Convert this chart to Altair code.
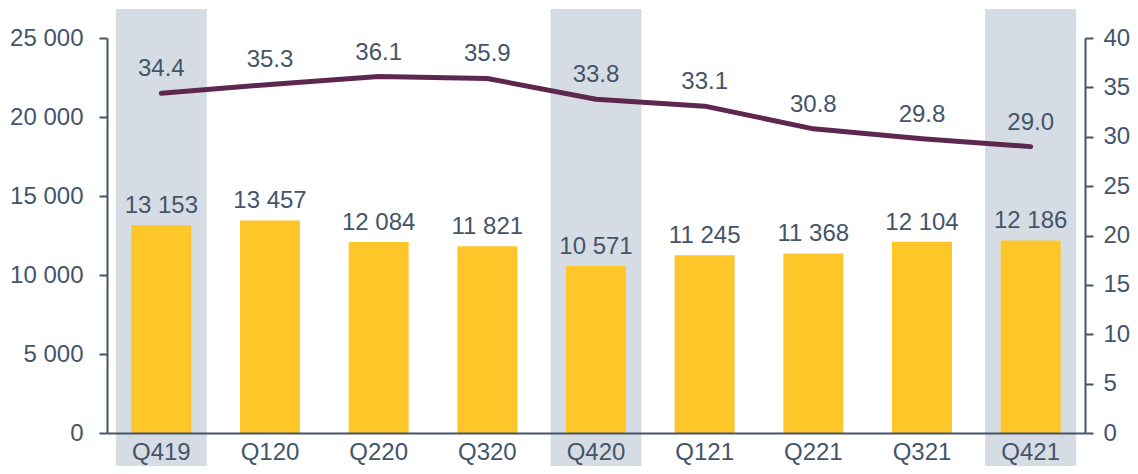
import altair as alt
import pandas as pd

quarters = ["Q419", "Q120", "Q220", "Q320", "Q420", "Q121", "Q221", "Q321", "Q421"]
bar_values = [13153, 13457, 12084, 11821, 10571, 11245, 11368, 12104, 12186]
line_values = [34.4, 35.3, 36.1, 35.9, 33.8, 33.1, 30.8, 29.8, 29.0]
highlight = [True, False, False, False, True, False, False, False, True]

df = pd.DataFrame({
    "q": quarters,
    "bar": bar_values,
    "line": line_values,
    "hl": highlight,
})
df["bar_label"] = [f"{v:,}".replace(",", " ") for v in bar_values]
df["line_label"] = [f"{v:.1f}" for v in line_values]

W, H = 978, 395
TXT = "#44546A"
FONT = "Liberation Sans"
FS = 24

x = alt.X("q:N", sort=quarters, title=None,
          scale=alt.Scale(paddingInner=0, paddingOuter=0),
          axis=alt.Axis(labelAngle=0, ticks=False, labelPadding=7, zindex=1,
                        domainColor=TXT, domainWidth=2,
                        labelColor=TXT, labelFont=FONT, labelFontSize=FS))

base = alt.Chart(df)

bands = base.transform_filter("datum.hl").mark_bar(
    size=91, color="#D6DCE4"
).encode(x=x, y=alt.value(-29), y2=alt.value(H + 41))

yl = alt.Y("bar:Q", title=None,
           scale=alt.Scale(domain=[0, 25000]),
           axis=alt.Axis(values=[0, 5000, 10000, 15000, 20000, 25000],
                         labelExpr="replace(format(datum.value, ','), ',', ' ')",
                         grid=False, domainColor=TXT, domainWidth=2, zindex=1,
                         tickColor=TXT, tickWidth=2, tickSize=8,
                         labelPadding=16, labelColor=TXT,
                         labelFont=FONT, labelFontSize=FS))

bars = base.mark_bar(size=60, color="#FFC629").encode(x=x, y=yl)
bar_text = base.mark_text(dy=-12, baseline="alphabetic", font=FONT,
                          fontSize=FS, color=TXT).encode(
    x=x, y=yl, text="bar_label:N")
bar_layer = alt.layer(bars, bar_text)

yr = alt.Y("line:Q", title=None,
           scale=alt.Scale(domain=[0, 40]),
           axis=alt.Axis(orient="right", values=list(range(0, 45, 5)),
                         grid=False, domainColor=TXT, domainWidth=2, zindex=1,
                         tickColor=TXT, tickWidth=2, tickSize=8,
                         labelPadding=10, labelColor=TXT,
                         labelFont=FONT, labelFontSize=FS))

line = base.mark_line(color="#5E2750", strokeWidth=5, strokeCap="round",
                      strokeJoin="round").encode(x=x, y=yr)
line_text = base.mark_text(dy=-17, baseline="alphabetic", font=FONT,
                           fontSize=FS, color=TXT).encode(
    x=x, y=yr, text="line_label:N")
line_layer = alt.layer(line, line_text)

chart = alt.layer(bands, bar_layer, line_layer).resolve_scale(
    y="independent"
).properties(
    width=W, height=H,
    autosize=alt.AutoSizeParams(type="none"),
    padding={"left": 99, "top": 30, "right": 45, "bottom": 33},
).configure_view(stroke=None)

chart.save("out.html", embed_options={"renderer": "svg", "actions": False})
